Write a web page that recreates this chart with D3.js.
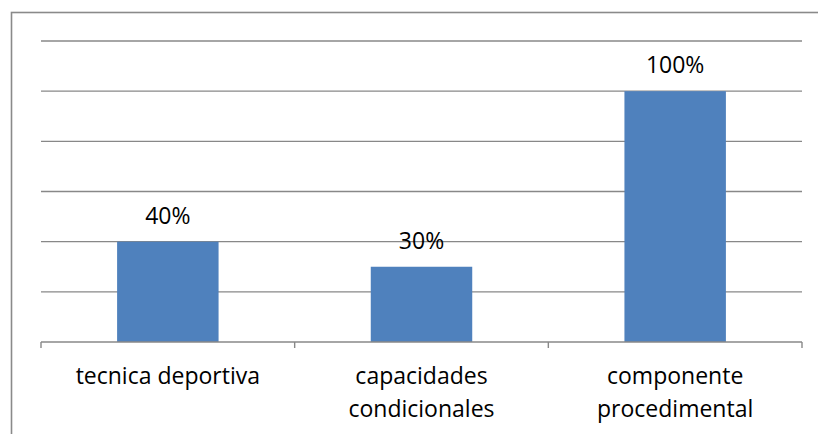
<!DOCTYPE html>
<html><head><meta charset="utf-8">
<script src="https://cdn.jsdelivr.net/npm/d3@7"></script>
<style>body{margin:0;background:#fff}svg{display:block}</style>
</head><body>
<svg id="c" width="818" height="434"></svg>
<script>
const categories = ["tecnica deportiva", "capacidades condicionales", "componente procedimental"];
const categoryLines = [["tecnica deportiva"], ["capacidades", "condicionales"], ["componente", "procedimental"]];
const values = [40, 30, 100];
const valueLabels = ["40%", "30%", "100%"];
const gridTicks = [20, 40, 60, 80, 100, 120];

(function() {
const svg = d3.select("#c");
const font = "'Open Sans', sans-serif";
const pLeft = 41, pRight = 802, pTop = 41, pBottom = 342;

svg.append("rect").attr("x", 11.5).attr("y", 12.5).attr("width", 830).attr("height", 440)
  .attr("fill", "#fff").attr("stroke", "#8a8a8a").attr("stroke-width", 1.6);

const x = d3.scaleBand().domain(categories).range([pLeft, pRight]).paddingInner(0.6).paddingOuter(0.3);
const y = d3.scaleLinear().domain([0, 120]).range([pBottom, pTop]);

svg.append("g").selectAll("line").data(gridTicks).join("line")
  .attr("x1", pLeft).attr("x2", pRight)
  .attr("y1", d => y(d)).attr("y2", d => y(d))
  .attr("stroke", "#888").attr("stroke-width", 1.4);

svg.append("g").selectAll("rect").data(values).join("rect")
  .attr("x", (d, i) => x(categories[i]))
  .attr("width", x.bandwidth())
  .attr("y", d => y(d))
  .attr("height", d => y(0) - y(d))
  .attr("fill", "#4F81BD");

const step = (pRight - pLeft) / categories.length;
const tickPos = d3.range(categories.length + 1).map(i => pLeft + i * step);
svg.append("line").attr("x1", pLeft).attr("x2", pRight).attr("y1", y(0)).attr("y2", y(0))
  .attr("stroke", "#888").attr("stroke-width", 1.4);
svg.append("g").selectAll("line").data(tickPos).join("line")
  .attr("x1", d => d).attr("x2", d => d).attr("y1", y(0)).attr("y2", y(0) + 6)
  .attr("stroke", "#888").attr("stroke-width", 1.4);

svg.append("g").selectAll("text").data(values).join("text")
  .attr("x", (d, i) => x(categories[i]) + x.bandwidth() / 2)
  .attr("y", d => y(d) - 18)
  .attr("text-anchor", "middle")
  .attr("font-family", font).attr("font-size", 23).attr("fill", "#000")
  .text((d, i) => valueLabels[i]);

const lab = svg.append("g").selectAll("text").data(categories).join("text")
  .attr("text-anchor", "middle")
  .attr("font-family", font).attr("font-size", 23).attr("fill", "#000");
lab.each(function(d, i) {
  const cx = x(d) + x.bandwidth() / 2;
  d3.select(this).selectAll("tspan").data(categoryLines[i]).join("tspan")
    .attr("x", cx).attr("y", (t, j) => 384 + j * 33).text(t => t);
});
})();
</script>
</body></html>
